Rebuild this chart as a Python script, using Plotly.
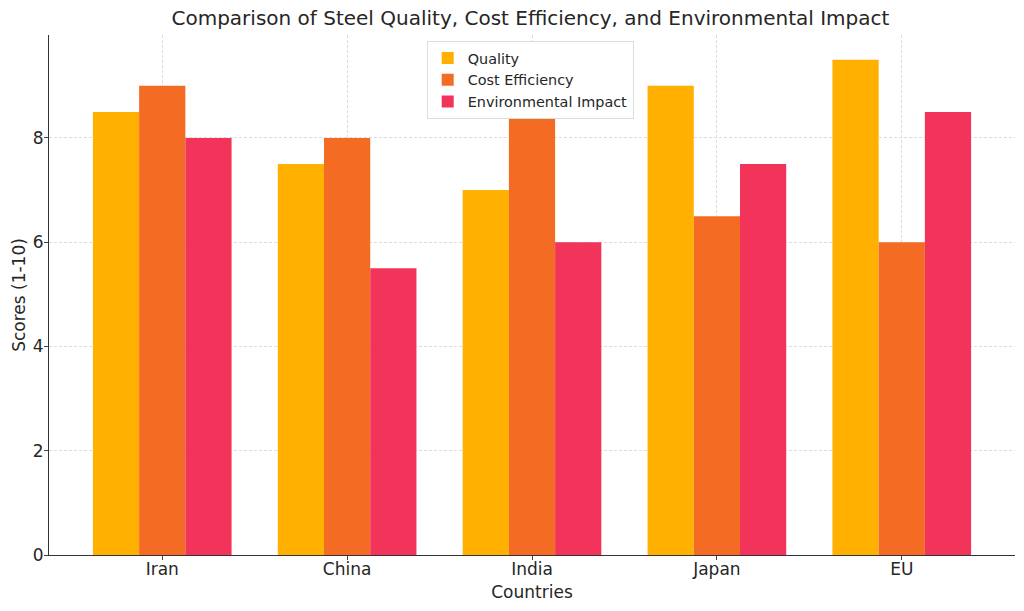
import plotly.graph_objects as go

countries = ["Iran", "China", "India", "Japan", "EU"]
quality = [8.5, 7.5, 7.0, 9.0, 9.5]
cost_efficiency = [9.0, 8.0, 8.5, 6.5, 6.0]
environmental_impact = [8.0, 5.5, 6.0, 7.5, 8.5]

series = [
    ("Quality", quality, "#FFB000"),
    ("Cost Efficiency", cost_efficiency, "#F46B24"),
    ("Environmental Impact", environmental_impact, "#F2335A"),
]

fig = go.Figure()
for name, vals, color in series:
    fig.add_trace(go.Bar(x=countries, y=vals, name=name, marker=dict(color=color, line=dict(width=0))))

fig.update_layout(
    width=1024, height=611,
    barmode="group", bargap=0.25, bargroupgap=0,
    paper_bgcolor="white", plot_bgcolor="white",
    font=dict(family="DejaVu Sans", size=17, color="#262626"),
    title=dict(text="Comparison of Steel Quality, Cost Efficiency, and Environmental Impact",
               x=0.518, xanchor="center", y=0.970, yanchor="middle", font=dict(size=20),
               automargin=False),
    margin=dict(l=49, r=9, t=35, b=56, autoexpand=False),
    legend=dict(x=0.391, y=0.988, xanchor="left", yanchor="top", bgcolor="white",
                bordercolor="#dddddd", borderwidth=1, font=dict(size=14.4),
                tracegroupgap=0, itemwidth=30),
    showlegend=True,
)
fig.update_xaxes(title=dict(text="Countries", standoff=7, font=dict(size=17)), range=[-0.6125, 4.6125],
                 showline=True, linecolor="#333", linewidth=1, ticks="outside", ticklen=4,
                 tickfont=dict(size=17), ticklabelstandoff=-5,
                 showgrid=True, gridcolor="#dcdcdc", griddash="3px,2px", gridwidth=0.8,
                 layer="above traces", automargin=False)
fig.update_yaxes(title=dict(text="Scores (1-10)", standoff=2, font=dict(size=17)), range=[0, 9.975], dtick=2,
                 showline=True, linecolor="#333", linewidth=1, ticks="outside", ticklen=4,
                 tickfont=dict(size=17), ticklabelstandoff=-3,
                 showgrid=True, gridcolor="#dcdcdc", griddash="3px,2px", gridwidth=0.8,
                 zeroline=False, layer="above traces", automargin=False)

fig.write_html("out.html", config={"displayModeBar": False},
               post_script="document.body.style.margin='0';")
